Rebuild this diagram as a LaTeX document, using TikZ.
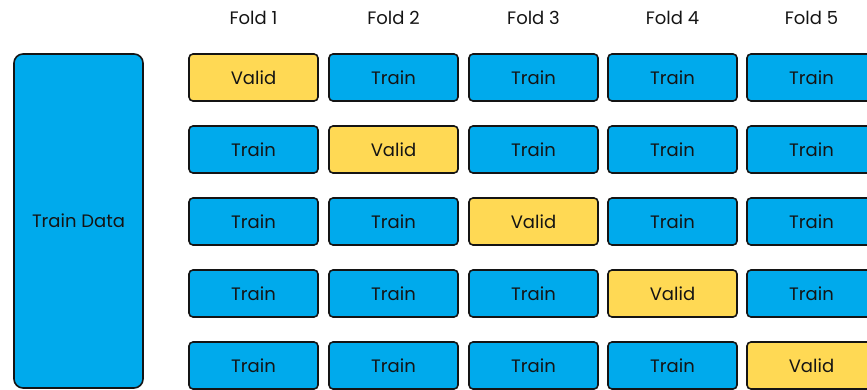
\documentclass[tikz,border=0pt]{standalone}
\usepackage{fontspec}
\setmainfont{Poppins}
\usepackage{xcolor}
\usepackage{tikz}
\definecolor{trainblue}{RGB}{0,170,236}
\definecolor{validyellow}{RGB}{255,217,84}
\definecolor{edgedark}{RGB}{20,20,20}

\begin{document}
\begin{tikzpicture}[x=1pt, y=-1pt,
    cell/.style={rectangle, draw=edgedark, line width=1.6pt, rounded corners=4pt, minimum width=129pt, minimum height=47pt, inner sep=0pt, font=\fontsize{18}{21}\selectfont, text=edgedark},
    train/.style={cell, fill=trainblue},
    valid/.style={cell, fill=validyellow},
    fold/.style={font=\fontsize{18}{21}\selectfont, text=edgedark}
]
    \clip (0,0) rectangle (867,390);
    \useasboundingbox (0,0) rectangle (867,390);

    % fold headers
    \node[fold] (f1) at (253.5,18) {Fold 1};
    \node[fold] (f2) at (393.5,18) {Fold 2};
    \node[fold] (f3) at (533.5,18) {Fold 3};
    \node[fold] (f4) at (672.5,18) {Fold 4};
    \node[fold] (f5) at (811.5,18) {Fold 5};

    % whole training set
    \node[train, rounded corners=9pt, minimum width=129pt, minimum height=334pt] (data) at (78.5,221) {Train Data};

    % row 1
    \node[valid] (r1c1) at (253.5,77.5) {Valid};
    \node[train] (r1c2) at (393.5,77.5) {Train};
    \node[train] (r1c3) at (533.5,77.5) {Train};
    \node[train] (r1c4) at (672.5,77.5) {Train};
    \node[train] (r1c5) at (811.5,77.5) {Train};

    % row 2
    \node[train] (r2c1) at (253.5,149.5) {Train};
    \node[valid] (r2c2) at (393.5,149.5) {Valid};
    \node[train] (r2c3) at (533.5,149.5) {Train};
    \node[train] (r2c4) at (672.5,149.5) {Train};
    \node[train] (r2c5) at (811.5,149.5) {Train};

    % row 3
    \node[train] (r3c1) at (253.5,221.5) {Train};
    \node[train] (r3c2) at (393.5,221.5) {Train};
    \node[valid] (r3c3) at (533.5,221.5) {Valid};
    \node[train] (r3c4) at (672.5,221.5) {Train};
    \node[train] (r3c5) at (811.5,221.5) {Train};

    % row 4
    \node[train] (r4c1) at (253.5,293.5) {Train};
    \node[train] (r4c2) at (393.5,293.5) {Train};
    \node[train] (r4c3) at (533.5,293.5) {Train};
    \node[valid] (r4c4) at (672.5,293.5) {Valid};
    \node[train] (r4c5) at (811.5,293.5) {Train};

    % row 5
    \node[train] (r5c1) at (253.5,365.5) {Train};
    \node[train] (r5c2) at (393.5,365.5) {Train};
    \node[train] (r5c3) at (533.5,365.5) {Train};
    \node[train] (r5c4) at (672.5,365.5) {Train};
    \node[valid] (r5c5) at (811.5,365.5) {Valid};
\end{tikzpicture}
\end{document}
